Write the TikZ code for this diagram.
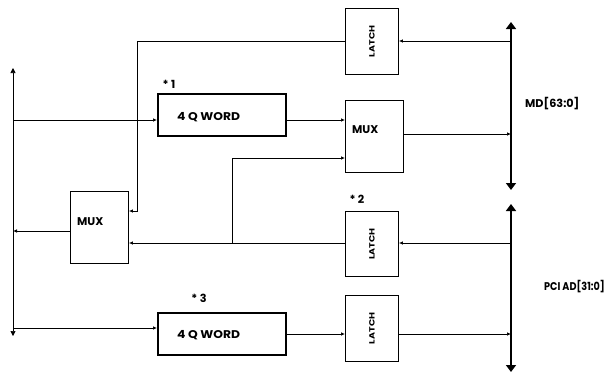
\documentclass[tikz,border=0pt]{standalone}
\usepackage{fontspec}
\setmainfont{Poppins}
\usetikzlibrary{arrows.meta}
\begin{document}
\begin{tikzpicture}[x=1pt,y=-1pt,
  blk/.style={draw,line width=0.9pt,inner sep=0pt,anchor=north west},
  thick blk/.style={draw,line width=1.8pt,inner sep=0pt,anchor=north west},
  lbl/.style={font=\fontsize{11.2}{12}\selectfont\bfseries,inner sep=0pt},
  vlbl/.style={font=\fontsize{9.5}{10}\selectfont\bfseries,inner sep=0pt,rotate=90,yscale=0.8},
  wire/.style={line width=0.7pt},
  sig/.style={wire,-{Latex[length=4pt,width=3.5pt]}},
  bus/.style={line width=2.8pt,{Triangle[length=7pt,width=10pt]}-{Triangle[length=7pt,width=10pt]}}
]
\useasboundingbox (0,0) rectangle (611,373);
% boxes
\node[blk,minimum width=53pt,minimum height=66pt] (latchA) at (345,8) {};
\node[vlbl] (latchAt) at (latchA.center) {LATCH};
\node[blk,minimum width=58pt,minimum height=72pt] (mux2) at (345,100) {};
\node[lbl,anchor=west] (mux2t) at (352,130) {MUX};
\node[thick blk,minimum width=128pt,minimum height=42pt] (qw1) at (157,93) {};
\node[lbl,anchor=west,xscale=1.1] (qw1t) at (177,117) {4 Q WORD};
\node[lbl] (s1) at (169,84) {* 1};
\node[blk,minimum width=53pt,minimum height=65pt] (latch2) at (345,211) {};
\node[vlbl] (latch2t) at (latch2.center) {LATCH};
\node[lbl] (s2) at (357,199) {* 2};
\node[blk,minimum width=53pt,minimum height=66pt] (latch3) at (345,295) {};
\node[vlbl] (latch3t) at (latch3.center) {LATCH};
\node[thick blk,minimum width=128pt,minimum height=42pt] (qw3) at (157,312) {};
\node[lbl,anchor=west,xscale=1.1] (qw3t) at (177,335) {4 Q WORD};
\node[lbl] (s3) at (199,298) {* 3};
\node[blk,minimum width=58pt,minimum height=72pt] (mux1) at (70,191) {};
\node[lbl,anchor=west] (mux1t) at (77,222) {MUX};
\node[lbl,anchor=west] (mdl) at (525,104) {MD[63:0]};
\node[lbl,anchor=west,xscale=0.86] (pcil) at (544,287) {PCI AD[31:0]};
% buses
\coordinate (mdT) at (511,22);
\coordinate (mdB) at (511,190);
\coordinate (pcT) at (511,204);
\coordinate (pcB) at (511,372);
\coordinate (lbT) at (13,68);
\coordinate (lbB) at (13,336);
\draw[bus] (mdB) -- (mdT);
\draw[bus] (pcB) -- (pcT);
\draw[wire,{Triangle[length=5pt,width=5pt]}-{Triangle[length=5pt,width=5pt]}] (lbT) -- (lbB);
% taps
\coordinate (mdA) at (511,41);
\coordinate (mdM) at (511,134);
\coordinate (pc2) at (511,243);
\coordinate (pc3) at (511,334);
\coordinate (lb1) at (13,120);
\coordinate (lbm) at (13,231);
\coordinate (lb3) at (13,328);
\coordinate (cA) at (137,41);
\coordinate (cB) at (137,211);
\coordinate (j) at (232,243);
\coordinate (jT) at (232,158);
% wires
\draw[sig] (mdA) -- (mdA -| latchA.east);
\draw[sig] (cA -| latchA.west) -- (cA) -- (cB) -- (cB -| mux1.east);
\draw[sig] (lb1) -- (lb1 -| qw1.west);
\draw[sig] (lb1 -| qw1.east) -- (lb1 -| mux2.west);
\draw[sig] (mdM -| mux2.east) -- (mdM);
\draw[sig] (pc2 -| latch2.west) -- (pc2 -| mux1.east);
\draw[sig] (j) -- (jT) -- (jT -| mux2.west);
\draw[sig] (pc2) -- (pc2 -| latch2.east);
\draw[sig] (lbm -| mux1.west) -- (lbm);
\draw[sig] (lb3) -- (lb3 -| qw3.west);
\draw[sig] (pc3 -| qw3.east) -- (pc3 -| latch3.west);
\draw[sig] (pc3 -| latch3.east) -- (pc3);
\end{tikzpicture}
\end{document}
